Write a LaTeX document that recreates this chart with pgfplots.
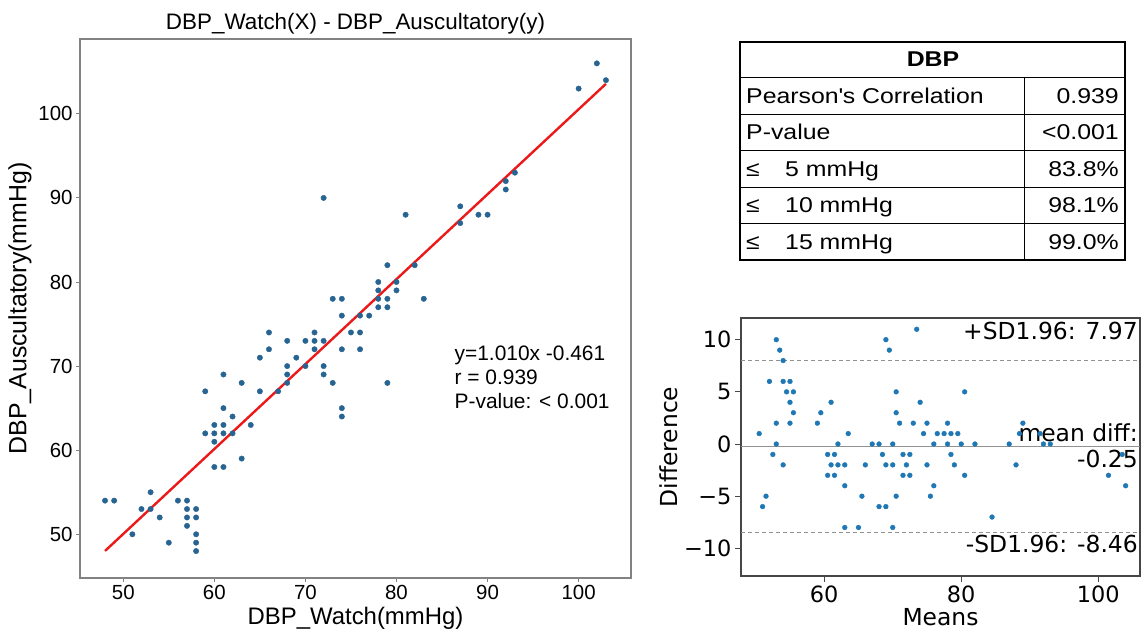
\documentclass[border=0pt]{standalone}
\usepackage{fontspec}
\setmainfont{Liberation Sans}
\newfontfamily\djv{DejaVu Sans}
\newfontfamily\tabfont[FakeStretch=1.16]{Liberation Sans}
\usepackage{pgfplots}
\pgfplotsset{compat=1.18}
\definecolor{dotL}{RGB}{40,100,145}
\definecolor{dotR}{RGB}{31,119,180}
\definecolor{regred}{RGB}{235,25,25}
\definecolor{spineL}{RGB}{130,130,130}
\definecolor{spineR}{RGB}{70,70,70}
\definecolor{refgray}{RGB}{145,145,145}

\begin{document}
\begin{tikzpicture}[x=1bp,y=1bp]
\useasboundingbox (0,0) rectangle (1141,631);

% left: watch vs auscultatory scatter
\begin{axis}[
  at={(80bp,53bp)}, anchor=south west,
  scale only axis, width=551bp, height=539bp,
  xmin=45.25, xmax=105.75, ymin=44.8, ymax=108.9,
  xtick={50,60,70,80,90,100}, ytick={50,60,70,80,90,100},
  tick pos=left, tick align=outside, major tick length=4bp,
  axis line style={spineL, line width=1.3bp},
  every tick/.style={spineL, line width=1bp},
  /pgf/number format/assume math mode=true,
  tick label style={font=\fontsize{20.5}{24}\selectfont, black},
  xlabel style={font=\fontsize{24}{28}\selectfont},
  ylabel style={font=\fontsize{25}{29}\selectfont},
  title style={font=\fontsize{22.5}{26}\selectfont, at={(0.5,1)}, anchor=base, yshift=4bp},
  title={DBP\_Watch(X) - DBP\_Auscultatory(y)},
  xlabel={DBP\_Watch(mmHg)},
  ylabel={DBP\_Auscultatory(mmHg)},
]
\addplot[only marks, mark=*, mark size=2.7bp, dotL, mark options={draw=dotL, fill=dotL}] coordinates {
(48,54) (49,54) (51,50) (52,53) (53,53) (53,55) (54,52) (55,49) (56,54)
(57,54) (57,53) (57,52) (57,51) (58,53) (58,52) (58,50) (58,49) (58,48)
(59,62) (59,67) (60,63) (60,62) (60,61) (60,58) (61,65) (61,63) (61,62)
(61,58) (61,69) (62,64) (62,62) (63,59) (63,68) (64,63) (65,67) (65,71)
(66,74) (66,72) (67,67) (68,73) (68,70) (68,69) (68,68) (69,71) (70,73)
(70,70) (71,74) (71,73) (71,72) (72,73) (72,70) (72,69) (72,90) (73,68)
(73,78) (74,78) (74,76) (74,72) (74,65) (74,64) (75,74) (76,76) (76,74)
(76,72) (77,76) (78,80) (78,79) (78,78) (78,77) (79,78) (79,77) (79,82)
(79,68) (80,80) (80,79) (81,88) (82,82) (83,78) (87,89) (87,87) (89,88)
(90,88) (92,92) (92,91) (93,93) (100,103) (102,106) (103,104)
};
\addplot[regred, line width=2.4bp, no marks] coordinates {(48,48.019) (103,103.569)};
\node[anchor=base west, font=\fontsize{21}{25}\selectfont] at (axis cs:86,70.7) {y=1.010x -0.461};
\node[anchor=base west, font=\fontsize{21}{25}\selectfont] at (axis cs:86,67.8) {r = 0.939};
\node[anchor=base west, font=\fontsize{21}{25}\selectfont] at (axis cs:86,64.9) {P-value: < 0.001};
\end{axis}

% table
\draw[line width=2bp] (740,589.3) rectangle (1125,371);
\draw[line width=1.6bp] (740,553.3) -- (1125,553.3);
\draw[line width=1.4bp] (740,516.7) -- (1125,516.7);
\draw[line width=1.4bp] (740,480.3) -- (1125,480.3);
\draw[line width=1.4bp] (740,443.7) -- (1125,443.7);
\draw[line width=1.4bp] (740,407.7) -- (1125,407.7);
\draw[line width=1.6bp] (1024.3,553.3) -- (1024.3,371);
\node[anchor=base, font=\tabfont\bfseries\fontsize{21.5}{25}\selectfont] at (933,564) {DBP};
\begin{scope}[every node/.style={font=\tabfont\fontsize{21.5}{25}\selectfont, inner sep=0pt}]
\node[anchor=base west] at (746,527.5) {Pearson\textquotesingle s Correlation};
\node[anchor=base east] at (1119,527.5) {0.939};
\node[anchor=base west] at (746,491) {P-value};
\node[anchor=base east] at (1119,491) {<0.001};
\node[anchor=base west] at (746,454.5) {≤};
\node[anchor=base west] at (785,454.5) {5 mmHg};
\node[anchor=base east] at (1119,454.5) {83.8\%};
\node[anchor=base west] at (746,418.2) {≤};
\node[anchor=base west] at (785,418.2) {10 mmHg};
\node[anchor=base east] at (1119,418.2) {98.1\%};
\node[anchor=base west] at (746,381.9) {≤};
\node[anchor=base west] at (785,381.9) {15 mmHg};
\node[anchor=base east] at (1119,381.9) {99.0\%};
\end{scope}

% right: Bland-Altman
\begin{axis}[
  at={(741bp,55bp)}, anchor=south west,
  scale only axis, width=399bp, height=258bp,
  xmin=47.85, xmax=106.1, ymin=-12.65, ymax=12.08,
  xtick={60,80,100}, ytick={-10,-5,0,5,10},
  yticklabels={−10,−5,0,5,10},
  tick pos=left, tick align=outside, major tick length=6bp,
  axis line style={spineR, line width=1.3bp},
  every tick/.style={spineR, line width=1bp},
  /pgf/number format/assume math mode=true,
  tick label style={font=\djv\fontsize{22.5}{26}\selectfont, black},
  label style={font=\djv\fontsize{23.5}{27}\selectfont},
  xlabel style={yshift=1bp},
  xlabel={Means}, ylabel={Difference},
]
\addplot[only marks, mark=*, mark size=2.4bp, dotR, mark options={draw=dotR, fill=dotR}] coordinates {
(51,-6) (51.5,-5) (50.5,1) (52.5,-1) (53,0) (54,-2) (53,2) (52,6) (55,2)
(55.5,3) (55,4) (54.5,5) (54,6) (55.5,5) (55,6) (54,8) (53.5,9) (53,10)
(60.5,-3) (63,-8) (61.5,-3) (61,-2) (60.5,-1) (59,2) (63,-4) (62,-2) (61.5,-1)
(59.5,3) (65,-8) (63,-2) (62,0) (61,4) (65.5,-5) (63.5,1) (66,-2) (68,-6)
(70,-8) (69,-6) (67,0) (70.5,-5) (69,-2) (68.5,-1) (68,0) (70,-2) (71.5,-3)
(70,0) (72.5,-3) (72,-2) (71.5,-1) (72.5,-1) (71,2) (70.5,3) (70.5,5)
(75.5,-5) (76,-4) (75,-2) (73,2) (69.5,9) (69,10) (74.5,1) (76,0) (75,2)
(74,4) (76.5,1) (79,-2) (78.5,-1) (78,0) (77.5,1) (78.5,1) (78,2) (80.5,-3)
(73.5,11) (80,0) (79.5,1) (84.5,-7) (82,0) (80.5,5) (88,-2) (87,0) (88.5,1)
(89,2) (92,0) (91.5,1) (93,0) (101.5,-3) (104,-4) (103.5,-1)
};
\addplot[refgray, line width=1.2bp, dash pattern=on 4bp off 3bp, no marks] coordinates {(47.85,7.97) (106.1,7.97)};
\addplot[refgray, line width=1.2bp, dash pattern=on 4bp off 3bp, no marks] coordinates {(47.85,-8.46) (106.1,-8.46)};
\addplot[refgray, line width=1.3bp, no marks] coordinates {(47.85,-0.25) (106.1,-0.25)};
\node[anchor=base east, font=\djv\fontsize{23.5}{27}\selectfont, inner sep=0pt] at (axis cs:105.8,10.0) {+SD1.96: 7.97};
\node[anchor=base east, font=\djv\fontsize{23.5}{27}\selectfont, inner sep=0pt] at (axis cs:105.8,0.25) {mean diff:};
\node[anchor=base east, font=\djv\fontsize{23.5}{27}\selectfont, inner sep=0pt] at (axis cs:105.8,-2.27) {-0.25};
\node[anchor=base east, font=\djv\fontsize{23.5}{27}\selectfont, inner sep=0pt] at (axis cs:105.8,-10.42) {-SD1.96: -8.46};
\end{axis}
\end{tikzpicture}
\end{document}
